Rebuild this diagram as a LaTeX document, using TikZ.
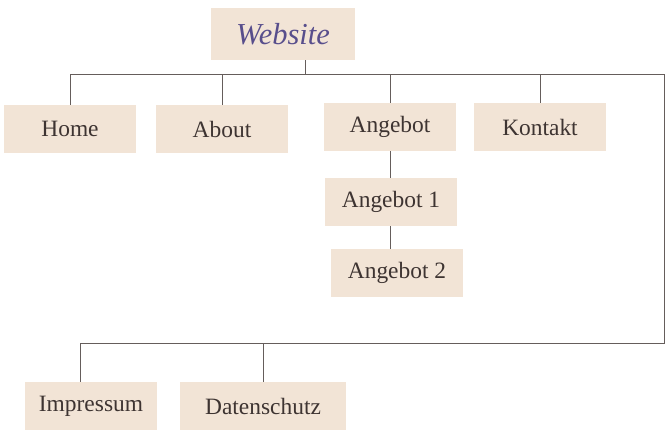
\documentclass[tikz,border=0pt]{standalone}
\usepackage{fontspec}
\setmainfont{Liberation Serif}
\usetikzlibrary{positioning}
\begin{document}
\begin{tikzpicture}[x=0.03cm,y=-0.03cm]
    % palette
    \definecolor{brush}{RGB}{242,228,214}
    \definecolor{inkDark}{RGB}{62,52,50}
    \definecolor{inkPurple}{RGB}{88,78,140}
    \tikzset{
      brushbox/.style={fill=brush, minimum width=3.96cm, minimum height=1.44cm,
                       text=inkDark, font=\fontsize{20}{22}\selectfont},
      link/.style={draw=inkDark!80, line width=0.6pt}
    }
    \useasboundingbox (0,0) rectangle (665,443);

    % title
    \node[brushbox, minimum width=4.3cm, minimum height=1.56cm, text=inkPurple,
          font=\fontsize{26}{28}\selectfont\itshape] (site) at (283,34) {Website};

    % main pages
    \node[brushbox] (home) at (70,129) {Home};
    \node[brushbox] (about) at (222,129) {About};
    \node[brushbox] (offer) at (390,127) {Angebot};
    \node[brushbox] (contact) at (540,127) {Kontakt};
    \node[brushbox] (offerA) at (391,202) {Angebot 1};
    \node[brushbox] (offerB) at (397,273) {Angebot 2};

    % footer pages
    \node[brushbox] (imprint) at (91,406) {Impressum};
    \node[brushbox, minimum width=5cm] (privacy) at (263,406) {Datenschutz};

    % junction points
    \coordinate (top) at (305,74);
    \coordinate (topL) at (70,74);
    \coordinate (topR) at (664,74);
    \coordinate (botR) at (664,343);
    \coordinate (botL) at (80,343);

    % connectors
    \draw[link] (site.south -| top) -- (top);
    \draw[link] (topL) -- (topR) -- (botR) -- (botL);
    \draw[link] (topL) -- (home.north);
    \draw[link] (about.north |- top) -- (about.north);
    \draw[link] (offer.north |- top) -- (offer.north);
    \draw[link] (contact.north |- top) -- (contact.north);
    \draw[link] (offer.south) -- (offerA.north -| offer.south);
    \draw[link] (offerA.south -| offer.south) -- (offerB.north -| offer.south);
    \draw[link] (botL) -- (imprint.north -| botL);
    \draw[link] (privacy.north |- botL) -- (privacy.north);
\end{tikzpicture}
\end{document}
